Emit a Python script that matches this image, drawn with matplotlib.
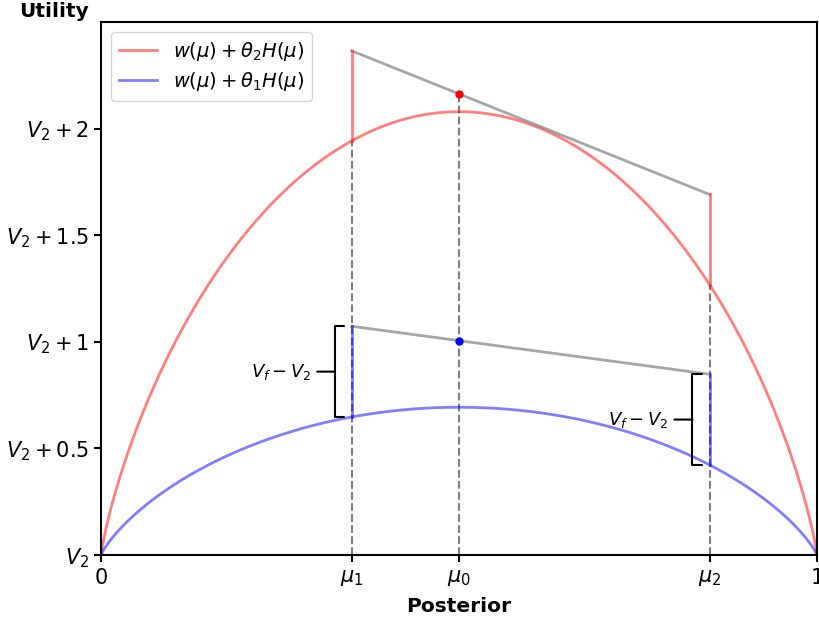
import numpy as np
import matplotlib
matplotlib.use("Agg")
import matplotlib.pyplot as plt

# ---- data ----
theta1 = 1.0
theta2 = 3.0
mu1, mu0, mu2 = 0.35, 0.5, 0.85
upper_line = [2.365, 1.691]   # gray line above red curve at mu1, mu2
lower_line = [1.073, 0.848]   # gray line above blue curve at mu1, mu2
red_dot = 2.163
blue_dot = 1.005
xtick_vals = [0, mu1, mu0, mu2, 1]
xtick_labels = ['$0$', r'$\mu_1$', r'$\mu_0$', r'$\mu_2$', '$1$']
ytick_vals = [0, 0.5, 1, 1.5, 2]
ytick_labels = ['$V_2$', '$V_2+0.5$', '$V_2+1$', '$V_2+1.5$', '$V_2+2$']


def H(p):
    p = np.asarray(p, dtype=float)
    with np.errstate(divide='ignore', invalid='ignore'):
        v = -p * np.log(p) - (1 - p) * np.log(1 - p)
    return np.nan_to_num(v)


fig = plt.figure(figsize=(8.2, 6.2), dpi=100)
ax = fig.add_axes([0.1232, 0.1048, 0.8731, 0.8597])

x = np.linspace(0, 1, 500)
ax.plot(x, theta2 * H(x), color='red', alpha=0.5, lw=2,
        label=r'$w(\mu)+\theta_2 H(\mu)$')
ax.plot(x, theta1 * H(x), color='blue', alpha=0.5, lw=2,
        label=r'$w(\mu)+\theta_1 H(\mu)$')

# dashed guides
ax.plot([mu1, mu1], [0, theta2 * H(mu1)], ls='--', color='gray', lw=1.5, zorder=1)
ax.plot([mu0, mu0], [0, red_dot], ls='--', color='gray', lw=1.5, zorder=1)
ax.plot([mu2, mu2], [0, theta2 * H(mu2)], ls='--', color='gray', lw=1.5, zorder=1)

# gray lines
ax.plot([mu1, mu2], upper_line, color='gray', alpha=0.7, lw=2)
ax.plot([mu1, mu2], lower_line, color='gray', alpha=0.7, lw=2)

# vertical jumps
ax.plot([mu1, mu1], [theta2 * H(mu1), upper_line[0]], color='red', alpha=0.5, lw=2)
ax.plot([mu2, mu2], [theta2 * H(mu2), upper_line[1]], color='red', alpha=0.5, lw=2)
ax.plot([mu1, mu1], [theta1 * H(mu1), lower_line[0]], color='blue', alpha=0.5, lw=2)
ax.plot([mu2, mu2], [theta1 * H(mu2), lower_line[1]], color='blue', alpha=0.5, lw=2)

ax.plot([mu0], [red_dot], 'o', color='red', ms=5, zorder=5)
ax.plot([mu0], [blue_dot], 'o', color='blue', ms=5, zorder=5)

# brackets
fs = 13
for xb, lo, hi, xt in [(0.33, theta1 * H(mu1), lower_line[0], 0.252),
                       (0.83, theta1 * H(mu2), lower_line[1], 0.751)]:
    mid = (lo + hi) / 2
    half_px = (hi - lo) / 2 * 213.5
    ax.annotate(r'$V_f - V_2$', xy=(xb, mid), xytext=(xt, mid),
                ha='center', va='center', fontsize=fs,
                arrowprops=dict(arrowstyle=f'-[, widthB={half_px / (fs * 100 / 72):.3f}, lengthB=0.5',
                                lw=1.5, color='black'))

ax.set_xlim(0, 1)
ax.set_ylim(0, 2.5)
ax.set_xticks(xtick_vals)
ax.set_xticklabels(xtick_labels, fontsize=15)
ax.set_yticks(ytick_vals)
ax.set_yticklabels(ytick_labels, fontsize=15)
ax.tick_params(width=1.5, length=5)
ax.tick_params(axis='x', pad=4.5)
for s in ax.spines.values():
    s.set_linewidth(1.5)
ax.set_xlabel('Posterior', fontweight='bold', fontsize=14.5, labelpad=6)
fig.text(0.066, 0.981, 'Utility', fontweight='bold', fontsize=14.5, ha='center', va='center')
ax.legend(loc='upper left', fontsize=14, labelspacing=0.4)

fig.savefig('out.png', dpi=100)
